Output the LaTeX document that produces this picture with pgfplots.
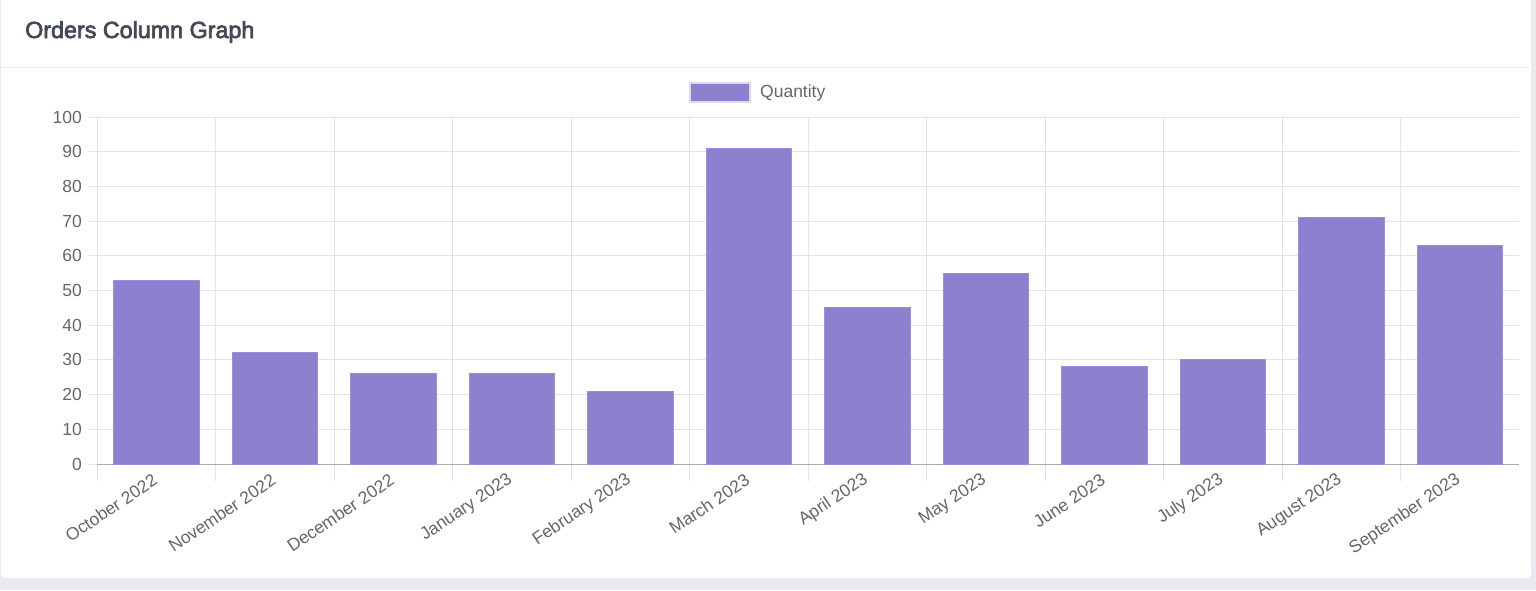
\documentclass[border=0pt]{standalone}
\usepackage{fontspec}
\setmainfont{Liberation Sans}
\newfontfamily\titlefont[FakeBold=3]{Liberation Sans}
\usepackage{pgfplots}
\pgfplotsset{compat=1.18}
\definecolor{pagebg}{HTML}{E9EAEF}
\definecolor{hdrline}{HTML}{ECEDF2}
\definecolor{titlecol}{HTML}{444A55}
\definecolor{tickcol}{HTML}{666666}
\definecolor{gridcol}{HTML}{E3E3E3}
\definecolor{zerocol}{HTML}{ABABAB}
\definecolor{barfill}{HTML}{8C80CF}
\definecolor{barline}{HTML}{9A8EE0}
\definecolor{legline}{HTML}{DCDCE6}
\begin{document}
\begin{tikzpicture}[x=1pt,y=1pt]
\useasboundingbox (0,0) rectangle (1536,590);
\fill[pagebg] (0,0) rectangle (1536,590);
\fill[white, rounded corners=4pt] (1,12) rectangle (1531,600);
\draw[hdrline, line width=1pt] (1,522) -- (1531,522);
\node[anchor=west, inner sep=0pt, text=titlecol, font=\titlefont\fontsize{23.3}{26}\selectfont] at (25,558) {Orders Column Graph};
\begin{axis}[
  at={(97pt,126pt)}, anchor=south west, scale only axis,
  width=1422pt, height=347pt,
  xmin=-0.5, xmax=11.5, ymin=0, ymax=100,
  axis line style={draw=none},
  tick align=outside,
  xtick={0,...,11},
  xticklabels={October 2022,November 2022,December 2022,January 2023,February 2023,March 2023,April 2023,May 2023,June 2023,July 2023,August 2023,September 2023},
  minor xtick={-0.5,0.5,...,10.5},
  xminorgrids=true, xmajorgrids=false,
  ymajorgrids=true,
  ytick={10,20,...,100},
  extra y ticks={0}, extra y tick labels={0},
  extra y tick style={grid style={zerocol, line width=1pt}, major tick style={zerocol, line width=1pt}},
  grid style={gridcol, line width=1pt},
  minor grid style={gridcol, line width=1pt},
  major tick length=8pt, minor tick length=17pt,
  major x tick style={draw=none},
  minor x tick style={gridcol, line width=1pt},
  major y tick style={gridcol, line width=1pt},
  xtick pos=bottom, ytick pos=left,
  /pgf/number format/assume math mode=true,
  tick label style={font=\fontsize{17.5}{20}\selectfont, text=tickcol},
  yticklabel style={inner sep=0pt, xshift=-7pt},
  xticklabel style={yshift=-6pt, xshift=-1pt, rotate=34, anchor=east, inner sep=0pt},
  legend style={draw=none, fill=none, at={(axis description cs:0.4163,1.072)}, anchor=west, inner sep=0pt, nodes={inner sep=0pt}, font=\fontsize{17.5}{20}\selectfont, text=tickcol, /tikz/every odd column/.append style={column sep=9pt}},
  legend image code/.code={\draw[fill=barfill, draw=legline, line width=2pt] (0pt,-9.5pt) rectangle (60pt,9.5pt);},
]
\addplot[ybar, bar width=85.5pt, bar shift=0pt, fill=barfill, draw=barline, line width=1pt] coordinates {
(0,53) (1,32) (2,26) (3,26) (4,21) (5,91) (6,45) (7,55) (8,28) (9,30) (10,71) (11,63)};
\legend{Quantity}
\end{axis}
\end{tikzpicture}
\end{document}
